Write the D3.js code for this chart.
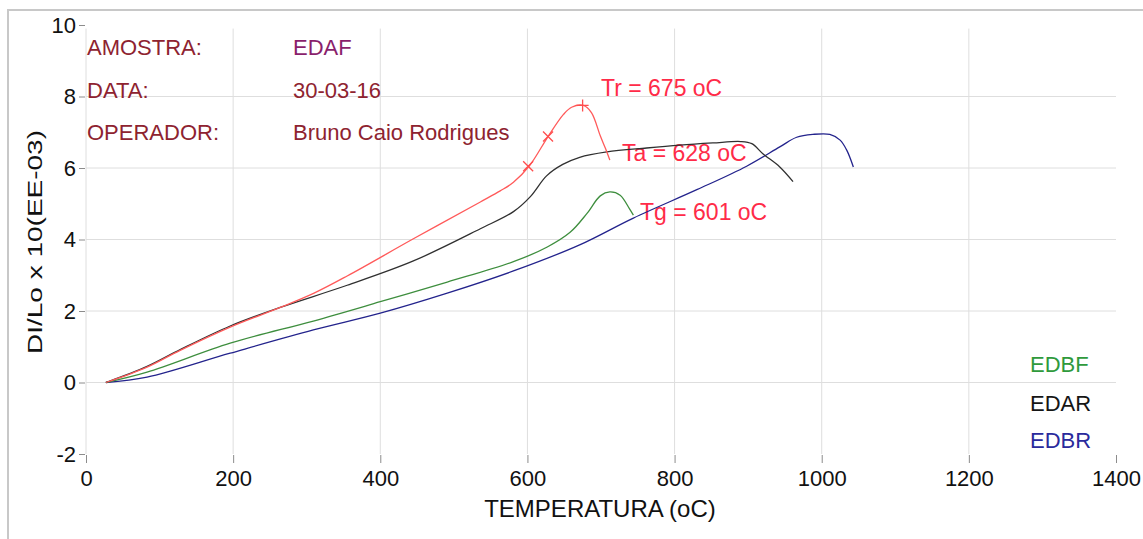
<!DOCTYPE html>
<html>
<head>
<meta charset="utf-8">
<script src="https://cdn.jsdelivr.net/npm/d3@7"></script>
<style>
  body { margin: 0; background: #fff; }
  text { font-family: "Liberation Sans", Arial, sans-serif; }
</style>
</head>
<body>
<svg id="chart" width="1143" height="539"></svg>
<script>
// chart values
var xTicks = [0, 200, 400, 600, 800, 1000, 1200, 1400];
var yTicks = [-2, 0, 2, 4, 6, 8, 10];

var edafX = [27, 83, 128, 196, 264, 310, 355, 445, 536, 563, 581, 603, 628, 649, 660, 676, 687, 699, 706, 712];
var edafY = [0, 0.43, 0.9, 1.55, 2.1, 2.5, 2.98, 4.02, 5.05, 5.36, 5.6, 6.07, 6.88, 7.5, 7.7, 7.75, 7.55, 6.9, 6.55, 6.22];

var edarX = [27, 83, 128, 196, 264, 355, 445, 536, 581, 604, 626, 648, 671, 708, 762, 807, 852, 890, 905, 920, 943, 961];
var edarY = [0, 0.45, 0.92, 1.58, 2.1, 2.72, 3.4, 4.3, 4.78, 5.2, 5.78, 6.1, 6.3, 6.45, 6.56, 6.64, 6.7, 6.74, 6.68, 6.4, 6.03, 5.62];

var edbfX = [27, 83, 196, 309, 400, 491, 581, 627, 658, 681, 699, 712, 726, 739, 744];
var edbfY = [0, 0.29, 1.1, 1.72, 2.26, 2.81, 3.38, 3.79, 4.2, 4.73, 5.22, 5.33, 5.24, 4.85, 4.68];

var edbrX = [27, 83, 196, 309, 400, 491, 581, 671, 744, 831, 898, 943, 966, 988, 1011, 1025, 1034, 1043];
var edbrY = [0, 0.15, 0.82, 1.47, 1.94, 2.5, 3.12, 3.85, 4.6, 5.4, 6.05, 6.59, 6.86, 6.94, 6.94, 6.78, 6.5, 6.03];

// transition temperatures marked on the EDAF curve
var markNames = ["Tg", "Ta", "Tr"];
var markTemps = [601, 628, 675];
var markVals = [6.05, 6.88, 7.75];
var markShapes = ["x", "x", "+"];

var infoLabels = ["AMOSTRA:", "DATA:", "OPERADOR:"];
var infoValues = ["EDAF", "30-03-16", "Bruno Caio Rodrigues"];
var legendNames = ["EDBF", "EDAR", "EDBR"];

var svg = d3.select("#chart");

var x = d3.scaleLinear().domain([0, 1400]).range([86, 1116]);
var y = d3.scaleLinear().domain([-2, 10]).range([454, 25]);

// outer frame (only top and left edges visible)
svg.append("path")
  .attr("d", "M8,539V10H1143")
  .attr("fill", "none")
  .attr("stroke", "#c8c8c8")
  .attr("stroke-width", 2);

// grid
svg.append("g").selectAll("line")
  .data(xTicks.filter(d => d < 1400))
  .join("line")
  .attr("x1", d => x(d)).attr("x2", d => x(d))
  .attr("y1", y(9.9)).attr("y2", y(-2))
  .attr("stroke", "#dedede");

svg.append("g").selectAll("line")
  .data(yTicks.filter(d => d > -2 && d < 10))
  .join("line")
  .attr("x1", x(0)).attr("x2", x(1400))
  .attr("y1", d => y(d)).attr("y2", d => y(d))
  .attr("stroke", "#dedede");

// axes
var plain = d => String(d);
var xAxis = svg.append("g")
  .attr("transform", "translate(0," + (y(-2) + 1) + ")")
  .call(d3.axisBottom(x).tickValues(xTicks).tickFormat(plain).tickSize(8).tickPadding(7));
var yAxis = svg.append("g")
  .attr("transform", "translate(" + (x(0) - 1) + ",0)")
  .call(d3.axisLeft(y).tickValues(yTicks).tickFormat(plain).tickSize(6).tickPadding(3));

[xAxis, yAxis].forEach(a => {
  a.select(".domain").remove();
  a.selectAll(".tick line").attr("stroke", "#8c8c8c");
  a.selectAll(".tick text")
    .attr("fill", "#111")
    .style("font-family", "'Liberation Sans', Arial, sans-serif")
    .style("font-size", "22px");
});

// axis titles
svg.append("text")
  .attr("x", 600).attr("y", 517)
  .attr("text-anchor", "middle")
  .attr("fill", "#111")
  .style("font-size", "24px")
  .text("TEMPERATURA (oC)");

svg.append("text")
  .attr("transform", "translate(42,242) rotate(-90)")
  .attr("text-anchor", "middle")
  .attr("fill", "#111")
  .attr("textLength", 224)
  .attr("lengthAdjust", "spacingAndGlyphs")
  .style("font-size", "20px")
  .text("DI/Lo x 10(EE-03)");

// sample info block
var info = svg.append("g");
infoLabels.forEach((t, i) => {
  var by = 55 + i * 42.5;
  info.append("text").attr("x", 87).attr("y", by)
    .attr("fill", "#8e2330").style("font-size", "22px").text(t);
  info.append("text").attr("x", 293).attr("y", by)
    .attr("fill", i === 0 ? "#8a1f6c" : "#8e2330").style("font-size", "22px").text(infoValues[i]);
});

// temperature annotations
var annX = [640, 622, 601];
var annY = [220, 161, 96];
markNames.forEach((n, i) => {
  svg.append("text")
    .attr("x", annX[i]).attr("y", annY[i])
    .attr("fill", "#ff2b48")
    .style("font-size", "23px")
    .text(n + " = " + markTemps[i] + " oC");
});

// curves
var line = d3.line()
  .x(d => x(d[0]))
  .y(d => y(d[1]))
  .curve(d3.curveCatmullRom.alpha(0.5));

var series = [
  { xs: edbrX, ys: edbrY, color: "#23238c" },
  { xs: edbfX, ys: edbfY, color: "#3e8e3e" },
  { xs: edarX, ys: edarY, color: "#303030" },
  { xs: edafX, ys: edafY, color: "#ff5a5a" }
];

series.forEach(s => {
  svg.append("path")
    .datum(d3.zip(s.xs, s.ys))
    .attr("d", line)
    .attr("fill", "none")
    .attr("stroke", s.color)
    .attr("stroke-width", 1.3);
});

// markers on the EDAF curve
markTemps.forEach((t, i) => {
  var cx = x(t), cy = y(markVals[i]), r = 5;
  var d = markShapes[i] === "x"
    ? `M${cx - r},${cy - r}L${cx + r},${cy + r}M${cx - r},${cy + r}L${cx + r},${cy - r}`
    : `M${cx - r - 1},${cy}L${cx + r + 1},${cy}M${cx},${cy - r - 1}L${cx},${cy + r + 1}`;
  svg.append("path").attr("d", d)
    .attr("stroke", "#ff4d4d").attr("stroke-width", 1.3).attr("fill", "none");
});

// legend
var legendColors = ["#2f9a3c", "#151515", "#2a2a9c"];
var legendY = [372, 411, 448];
legendNames.forEach((n, i) => {
  svg.append("text")
    .attr("x", 1030).attr("y", legendY[i])
    .attr("fill", legendColors[i])
    .style("font-size", "22px")
    .text(n);
});
</script>
</body>
</html>
